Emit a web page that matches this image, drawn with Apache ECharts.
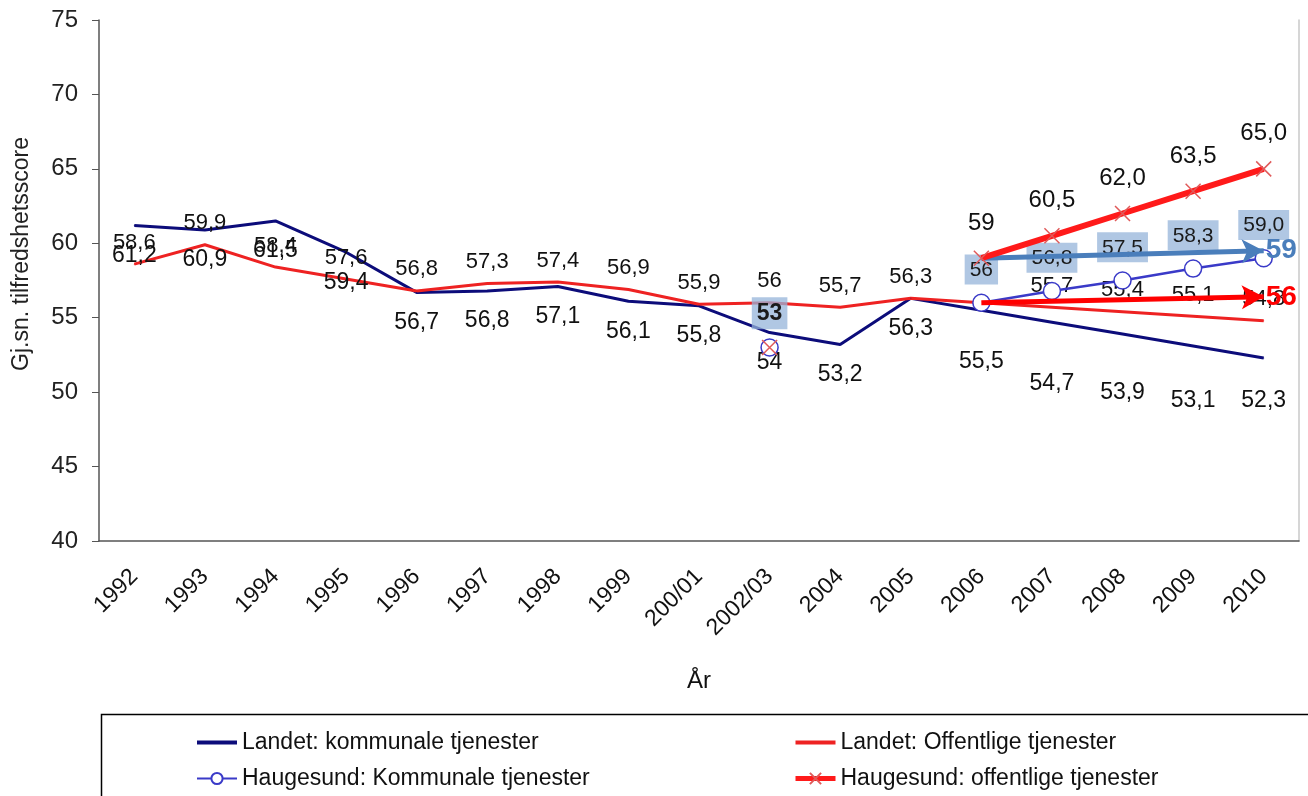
<!DOCTYPE html>
<html>
<head>
    <meta charset="utf-8">
    <title>Tilfredshetsscore</title>
    <script src="https://cdn.jsdelivr.net/npm/echarts@6/dist/echarts.min.js"></script>
    <style>
        html, body { margin: 0; padding: 0; background: #fff; }
        #main { width: 1308px; height: 796px; }
    </style>
</head>
<body>
<div id="main"></div>
<script type="text/javascript">
    // kategorier (x-akse)
    var years = ['1992', '1993', '1994', '1995', '1996', '1997', '1998', '1999', '200/01',
        '2002/03', '2004', '2005', '2006', '2007', '2008', '2009', '2010'];

    // serier
    var landetKommunale = [61.2, 60.9, 61.5, 59.4, 56.7, 56.8, 57.1, 56.1, 55.8,
        54, 53.2, 56.3, 55.5, 54.7, 53.9, 53.1, 52.3];
    var landetOffentlige = [58.6, 59.9, 58.4, 57.6, 56.8, 57.3, 57.4, 56.9, 55.9,
        56, 55.7, 56.3, 56.0, 55.7, 55.4, 55.1, 54.8];
    var haugesundKommunale = [null, null, null, null, null, null, null, null, null,
        53, null, null, 56, 56.8, 57.5, 58.3, 59.0];
    var haugesundOffentlige = [null, null, null, null, null, null, null, null, null,
        53, null, null, 59, 60.5, 62.0, 63.5, 65.0];

    // trendpiler 2006 -> 2010
    var trendYears = ['2006', '2010'];
    var blueTrend = [59, 59.5];
    var redTrend = [56, 56.4];
    var blueTrendLabel = '59';
    var redTrendLabel = '56';

    var names = ['Landet: kommunale tjenester', 'Landet: Offentlige tjenester',
        'Haugesund: Kommunale tjenester', 'Haugesund: offentlige tjenester'];

    var wholeYears = ['2002/03'];   // tall uten desimal
    var font = "'Liberation Sans', Arial, sans-serif";
    var lineIcon = 'path://M0,0H40V4H0Z';

    // etiketter for fremskrivningen 2006-2010 ligger lenger ned
    var projLabelGap = { '2006': 39, '2007': 49, '2008': 47, '2009': 43, '2010': 31 };

    function fmt(v, whole) {
        if (v == null) return '';
        return whole ? String(Math.round(v)) : v.toFixed(1).replace('.', ',');
    }

    var myChart = echarts.init(document.getElementById('main'));

    var lkData = landetKommunale.map(function(v, i) {
        var gap = projLabelGap[years[i]];
        return gap ? { value: v, label: { distance: gap } } : v;
    });

    var hkData = haugesundKommunale.map(function(v, i) {
        if (years[i] === '2002/03') {
            return { value: v, label: { fontWeight: 'bold', fontSize: 23 } };
        }
        return v;
    });

    var legendText = { fontSize: 23, color: '#111', fontFamily: font };

    var option = {
        backgroundColor: '#fff',
        animation: false,
        textStyle: { fontFamily: font },
        grid: { left: 99, right: 9, top: 20, bottom: 255 },
        legend: [{
            orient: 'vertical',
            left: 191,
            top: 726,
            itemGap: 13,
            itemWidth: 40,
            itemHeight: 14,
            textStyle: legendText,
            data: [{ name: names[0], icon: lineIcon },
                { name: names[2] }]
        }, {
            orient: 'vertical',
            left: 788,
            top: 726,
            itemGap: 13,
            itemWidth: 40,
            itemHeight: 14,
            textStyle: legendText,
            data: [{ name: names[1], icon: lineIcon },
                { name: names[3], lineStyle: { width: 5 } }]
        }],
        graphic: [{
            type: 'rect',
            left: 99,
            top: 712,
            silent: true,
            shape: { width: 1215, height: 100 },
            style: { fill: 'none', stroke: '#000', lineWidth: 1.5 }
        }, {
            type: 'text',
            x: 22,
            y: 254,
            rotation: Math.PI / 2,
            silent: true,
            style: {
                text: 'Gj.sn. tilfredshetsscore',
                fontSize: 23,
                fontFamily: font,
                fill: '#222',
                align: 'center',
                verticalAlign: 'middle'
            }
        }],
        xAxis: {
            type: 'category',
            data: years,
            boundaryGap: true,
            name: 'År',
            nameLocation: 'middle',
            nameGap: 128,
            nameTextStyle: { fontSize: 24, color: '#111' },
            axisLine: { lineStyle: { color: '#555', width: 1.5 } },
            axisTick: { interval: 0, length: 7, lineStyle: { color: '#555' } },
            axisLabel: { interval: 0, rotate: 45, fontSize: 23, color: '#111', margin: 32 }
        },
        yAxis: [{
            type: 'value',
            min: 40,
            max: 75,
            interval: 5,
            axisLine: { show: true, lineStyle: { color: '#555', width: 1.5 } },
            axisTick: { show: true, length: 7, lineStyle: { color: '#555' } },
            axisLabel: { fontSize: 24, color: '#222', margin: 21 },
            splitLine: { show: false }
        }, {
            type: 'value',
            min: 40,
            max: 75,
            interval: 5,
            position: 'right',
            axisLine: { show: true, lineStyle: { color: '#c8c8c8', width: 1.5 } },
            axisTick: { show: false },
            axisLabel: { show: false },
            splitLine: { show: false }
        }],
        series: [{
            name: names[0],
            type: 'line',
            data: lkData,
            symbol: 'circle',
            symbolSize: 1,
            color: '#0c0c7a',
            lineStyle: { width: 3 },
            label: {
                show: true,
                position: 'bottom',
                distance: 18,
                fontSize: 23,
                color: '#111',
                formatter: function(p) {
                    return fmt(p.value, wholeYears.indexOf(p.name) >= 0);
                }
            },
            z: 2
        }, {
            name: names[1],
            type: 'line',
            data: landetOffentlige,
            symbol: 'circle',
            symbolSize: 1,
            color: '#ee2222',
            lineStyle: { width: 3 },
            label: {
                show: true,
                position: 'top',
                distance: 10,
                fontSize: 22,
                color: '#111',
                formatter: function(p) {
                    if (p.name === '2006') return '';
                    return fmt(p.value, wholeYears.indexOf(p.name) >= 0);
                }
            },
            z: 2
        }, {
            name: names[2],
            type: 'line',
            data: hkData,
            connectNulls: false,
            symbol: 'circle',
            symbolSize: 17,
            color: '#3a3ac8',
            itemStyle: { color: '#fff', borderColor: '#3a3ac8', borderWidth: 1.5 },
            lineStyle: { width: 2.5, color: '#3a3ac8' },
            label: {
                show: true,
                position: 'top',
                distance: 9,
                fontSize: 21,
                color: '#1a1a1a',
                backgroundColor: 'rgba(150,180,218,0.75)',
                padding: [5, 5, 4, 5],
                formatter: function(p) {
                    var whole = p.name === '2002/03' || p.name === '2006';
                    return fmt(p.value, whole);
                }
            },
            markLine: {
                silent: true,
                symbol: ['none', 'arrow'],
                symbolSize: [18, 22],
                lineStyle: { type: 'solid', width: 5, color: '#4a7ebb' },
                label: {
                    show: true,
                    position: 'end',
                    distance: 2,
                    formatter: blueTrendLabel,
                    color: '#4a7ebb',
                    fontSize: 28,
                    fontWeight: 'bold'
                },
                data: [[
                    { coord: [trendYears[0], blueTrend[0]] },
                    { coord: [trendYears[1], blueTrend[1]] }
                ]]
            },
            z: 4
        }, {
            name: names[3],
            type: 'line',
            data: haugesundOffentlige,
            connectNulls: false,
            symbol: 'path://M0,0L10,10M10,0L0,10',
            symbolSize: 15,
            color: '#ff1a1a',
            itemStyle: { color: 'none', borderColor: '#e05a5a', borderWidth: 1.5 },
            lineStyle: { width: 6, color: '#ff1a1a' },
            label: {
                show: true,
                position: 'top',
                distance: 13,
                fontSize: 24,
                color: '#111',
                formatter: function(p) {
                    if (p.name === '2002/03') return '';
                    return fmt(p.value, p.name === '2006');
                }
            },
            markLine: {
                silent: true,
                symbol: ['none', 'arrow'],
                symbolSize: [18, 22],
                lineStyle: { type: 'solid', width: 5, color: '#ff0000' },
                label: {
                    show: true,
                    position: 'end',
                    distance: 2,
                    formatter: redTrendLabel,
                    color: '#ff0000',
                    fontSize: 28,
                    fontWeight: 'bold'
                },
                data: [[
                    { coord: [trendYears[0], redTrend[0]] },
                    { coord: [trendYears[1], redTrend[1]] }
                ]]
            },
            z: 5
        }]
    };

    myChart.setOption(option);
</script>
</body>
</html>
